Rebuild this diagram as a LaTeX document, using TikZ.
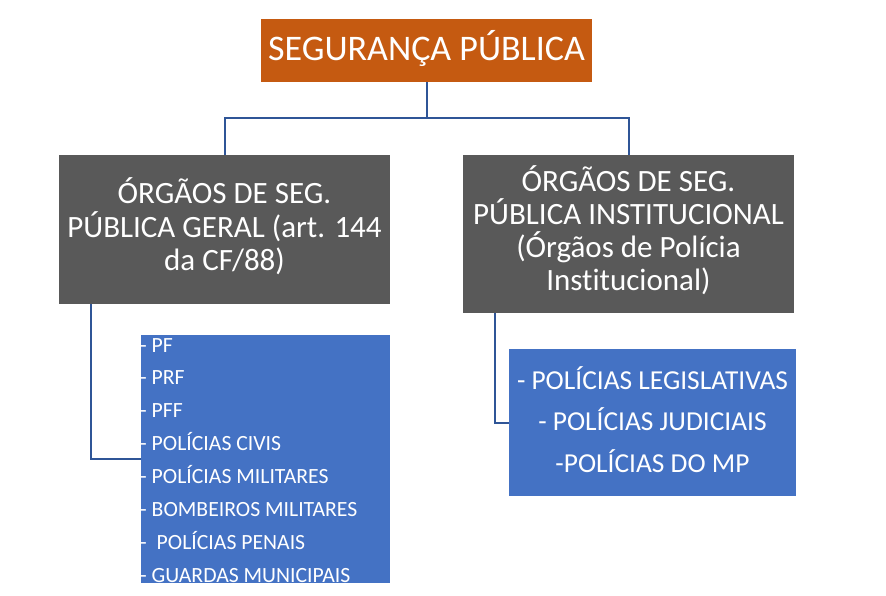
\documentclass[tikz,border=0pt]{standalone}
\usepackage{fontspec}
\setmainfont{Carlito}[RawFeature={-liga}]
\definecolor{segorange}{HTML}{C55A11}
\definecolor{orggray}{HTML}{595959}
\definecolor{listblue}{HTML}{4472C4}
\definecolor{linkblue}{HTML}{2F5597}
\tikzset{
  box/.style={inner sep=0pt, text=white, align=center},
  item/.style={inner sep=0pt, text=white, font=\fontsize{21.7}{24}\selectfont},
  link/.style={draw=linkblue, line width=2pt},
}

\begin{document}
\begin{tikzpicture}[x=1pt,y=-1pt]
			%%%%% START %%%%%
			\useasboundingbox (0,0) rectangle (886,595);
			
			\node[box, fill=segorange, minimum width=331pt, minimum height=63pt, text depth=11pt, font=\fontsize{36}{40}\selectfont] (seg) at (426.5,50.5) {SEGURANÇA PÚBLICA};
			
			\node[box, fill=orggray, minimum width=331pt, minimum height=149pt, text depth=10pt, font=\fontsize{31}{33.5}\selectfont] (geral) at (224.5,229.5) {ÓRGÃOS DE SEG.\\PÚBLICA GERAL (art. 144\\da CF/88)};
			\node[box, fill=orggray, minimum width=331pt, minimum height=158pt, text depth=12pt, font=\fontsize{31}{33}\selectfont] (inst) at (628.5,234) {ÓRGÃOS DE SEG.\\PÚBLICA INSTITUCIONAL\\(Órgãos de Polícia\\Institucional)};
			
			\node[box, fill=listblue, minimum width=249pt, minimum height=248pt] (lista) at (265.5,459) {};
			\foreach \t [count=\i] in {PF, PRF, PFF, POLÍCIAS CIVIS, POLÍCIAS MILITARES, BOMBEIROS MILITARES, {\hspace{5pt}POLÍCIAS PENAIS}, GUARDAS MUNICIPAIS}
				\node[item, anchor=base west] (geral\i) at ({140},{352+32.9*(\i-1)}) {- \t};
			
			\node[box, fill=listblue, minimum width=287pt, minimum height=147pt, text depth=6pt, font=\fontsize{27.4}{41.5}\selectfont] (listb) at (652.5,422.5) {- POLÍCIAS LEGISLATIVAS\\- POLÍCIAS JUDICIAIS\\-POLÍCIAS DO MP};
			
			\draw[link] (seg.south) -- ++(0,36) coordinate (junta);
			\draw[link] (geral.north) |- (junta) -| (inst.north);
			\draw[link] ([xshift=32pt]geral.south west) |- (lista.west);
			\draw[link] ([xshift=32pt]inst.south west) |- (listb.west);
			
			%%%%% END %%%%%
		\end{tikzpicture}
\end{document}
